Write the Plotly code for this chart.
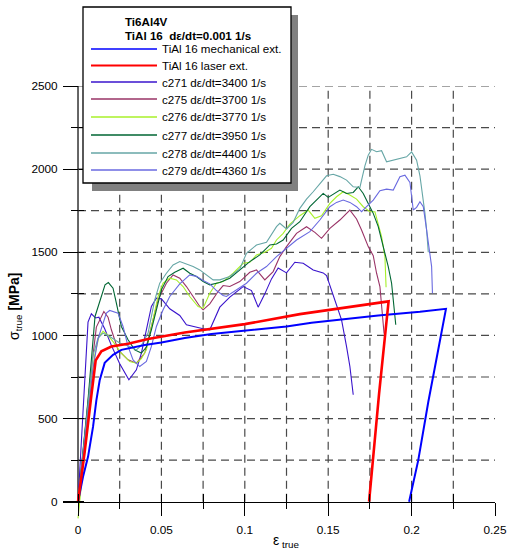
import plotly.graph_objects as go

# ---------------- data ----------------
mech_strain = [0, 0.003, 0.006, 0.009, 0.011, 0.013, 0.016, 0.021, 0.026, 0.033, 0.040, 0.050, 0.064,
               0.080, 0.100, 0.125, 0.140, 0.160, 0.180, 0.205, 0.2206, 0.2155, 0.2100, 0.2040, 0.1985]
mech_stress = [0, 150, 270, 450, 610, 730, 835, 883, 913, 930, 943, 958, 985,
               1008, 1030, 1054, 1076, 1100, 1120, 1142, 1160, 890, 600, 250, 0]

laser_strain = [0, 0.004, 0.008, 0.0106, 0.014, 0.020, 0.030, 0.042, 0.064, 0.100, 0.133, 0.160, 0.1862,
                0.1805, 0.1745]
laser_stress = [0, 300, 640, 850, 905, 933, 950, 978, 1018, 1068, 1128, 1167, 1205, 650, 0]

c271_strain = [0, 0.003, 0.006, 0.008, 0.0105, 0.0125, 0.016, 0.020, 0.025, 0.0305, 0.035, 0.038, 0.041,
               0.044, 0.047, 0.050, 0.055, 0.061, 0.065, 0.069, 0.075, 0.079, 0.082, 0.085, 0.091, 0.099,
               0.104, 0.108, 0.112, 0.116, 0.120, 0.125, 0.130, 0.135, 0.141, 0.147, 0.149, 0.152, 0.155,
               0.158, 0.161, 0.163, 0.165]
c271_stress = [0, 550, 1080, 1130, 1105, 1110, 1040, 940, 830, 733, 793, 894, 1034,
               1174, 1224, 1220, 1160, 1120, 1064, 1054, 1040, 1034, 1100, 1170, 1230, 1294,
               1270, 1170, 1250, 1340, 1406, 1376, 1440, 1434, 1394, 1376, 1360, 1270, 1174,
               1094, 933, 813, 643]

c275_strain = [0, 0.004, 0.008, 0.011, 0.0155, 0.018, 0.020, 0.024, 0.030, 0.035, 0.040, 0.044, 0.048,
               0.053, 0.057, 0.061, 0.065, 0.069, 0.073, 0.075, 0.079, 0.084, 0.087, 0.091, 0.097, 0.103,
               0.107, 0.112, 0.117, 0.121, 0.125, 0.131, 0.137, 0.142, 0.146, 0.151, 0.157, 0.163, 0.167,
               0.170, 0.174, 0.177, 0.179, 0.181, 0.182, 0.183, 0.1835]
c275_stress = [0, 400, 800, 1050, 1144, 1110, 1034, 913, 853, 833, 894, 1054, 1214,
               1314, 1364, 1344, 1294, 1234, 1174, 1154, 1190, 1264, 1300, 1294, 1324, 1380,
               1394, 1334, 1384, 1474, 1534, 1614, 1654, 1620, 1584, 1644, 1694, 1754, 1700,
               1634, 1534, 1480, 1374, 1294, 1174, 1094, 1010]

c276_strain = [0, 0.004, 0.0075, 0.010, 0.0125, 0.015, 0.018, 0.021, 0.026, 0.031, 0.035, 0.038, 0.041,
               0.045, 0.048, 0.051, 0.055, 0.059, 0.063, 0.067, 0.072, 0.075, 0.079, 0.083, 0.087, 0.093,
               0.099, 0.103, 0.107, 0.112, 0.116, 0.119, 0.123, 0.127, 0.133, 0.138, 0.142, 0.146, 0.151,
               0.155, 0.159, 0.163, 0.167, 0.171, 0.175, 0.178, 0.180, 0.182, 0.184, 0.1847]
c276_stress = [-100, 300, 700, 880, 990, 1025, 1000, 963, 894, 843, 833, 860, 913,
               1094, 1234, 1314, 1344, 1334, 1294, 1234, 1174, 1164, 1254, 1314, 1324, 1374,
               1434, 1440, 1484, 1500, 1524, 1574, 1614, 1670, 1720, 1754, 1704, 1720, 1794,
               1834, 1864, 1844, 1820, 1774, 1744, 1744, 1674, 1594, 1474, 1290]

c277_strain = [0, 0.006, 0.0102, 0.0132, 0.0162, 0.0182, 0.021, 0.023, 0.026, 0.030, 0.034, 0.038, 0.041,
               0.044, 0.047, 0.050, 0.054, 0.058, 0.063, 0.067, 0.071, 0.075, 0.079, 0.085, 0.091, 0.097,
               0.103, 0.109, 0.115, 0.119, 0.123, 0.128, 0.133, 0.139, 0.143, 0.147, 0.150, 0.153, 0.157,
               0.161, 0.165, 0.168, 0.171, 0.174, 0.177, 0.180, 0.182, 0.184, 0.186, 0.188, 0.189, 0.190,
               0.1905]
c277_stress = [0, 613, 1114, 1214, 1304, 1318, 1284, 1194, 1054, 974, 913, 894, 930,
               1034, 1154, 1274, 1354, 1380, 1404, 1374, 1354, 1324, 1304, 1318, 1344, 1394,
               1444, 1484, 1544, 1550, 1574, 1644, 1684, 1774, 1814, 1854, 1830, 1850, 1874,
               1854, 1860, 1894, 1854, 1794, 1734, 1654, 1574, 1494, 1414, 1314, 1214, 1104,
               1064]

c278_strain = [0, 0.005, 0.009, 0.012, 0.015, 0.019, 0.025, 0.031, 0.035, 0.038, 0.042, 0.046, 0.049,
               0.053, 0.057, 0.061, 0.065, 0.069, 0.073, 0.077, 0.081, 0.085, 0.091, 0.097, 0.101, 0.107,
               0.113, 0.119, 0.121, 0.125, 0.129, 0.133, 0.137, 0.141, 0.145, 0.149, 0.153, 0.157, 0.161,
               0.165, 0.169, 0.172, 0.174, 0.176, 0.179, 0.182, 0.185, 0.189, 0.193, 0.197, 0.200, 0.203,
               0.205, 0.207, 0.208, 0.209, 0.210]
c278_stress = [0, 500, 880, 984, 1014, 994, 954, 934, 913, 940, 1014, 1214, 1314,
               1374, 1424, 1444, 1430, 1414, 1394, 1364, 1334, 1334, 1354, 1400, 1494, 1544,
               1560, 1654, 1674, 1640, 1680, 1764, 1820, 1864, 1910, 1960, 1969, 1955, 1934,
               1894, 1890, 2020, 2084, 2119, 2105, 2111, 2044, 2054, 2060, 2074, 2104, 2054,
               1960, 1820, 1734, 1634, 1500]

c279_strain = [0, 0.005, 0.009, 0.012, 0.0142, 0.017, 0.019, 0.024, 0.027, 0.030, 0.033, 0.037, 0.041,
               0.044, 0.047, 0.051, 0.055, 0.061, 0.067, 0.071, 0.075, 0.079, 0.083, 0.087, 0.089, 0.095,
               0.101, 0.107, 0.113, 0.119, 0.125, 0.131, 0.139, 0.145, 0.151, 0.155, 0.159, 0.163, 0.167,
               0.170, 0.173, 0.177, 0.181, 0.185, 0.189, 0.193, 0.196, 0.199, 0.201, 0.203, 0.205, 0.207,
               0.209, 0.211, 0.212, 0.2125]
c279_stress = [0, 450, 800, 980, 1054, 1134, 1150, 1134, 1054, 934, 853, 813, 843,
               934, 1054, 1154, 1234, 1310, 1364, 1355, 1330, 1310, 1270, 1240, 1234, 1274,
               1314, 1374, 1414, 1474, 1524, 1574, 1624, 1694, 1774, 1800, 1814, 1800, 1774,
               1744, 1774, 1814, 1870, 1880, 1874, 1954, 1964, 1920, 1754, 1770, 1804, 1774,
               1634, 1494, 1414, 1254]

series_names = ["TiAl 16 mechanical ext.", "TiAl 16 laser ext.",
                "c271 dε/dt=3400 1/s", "c275 dε/dt=3700 1/s", "c276 dε/dt=3770 1/s",
                "c277 dε/dt=3950 1/s", "c278 dε/dt=4400 1/s", "c279 dε/dt=4360 1/s"]
legend_title_lines = ["Ti6Al4V", "TiAl 16  dε/dt=0.001 1/s"]
x_grid_values = [0.025, 0.05, 0.075, 0.1, 0.125, 0.15, 0.175, 0.2, 0.225]
y_grid_values = [250, 500, 750, 1000, 1250, 1500, 1750, 2000, 2250, 2500]

# ---------------- styles ----------------
series_data = [(mech_strain, mech_stress), (laser_strain, laser_stress),
               (c271_strain, c271_stress), (c275_strain, c275_stress), (c276_strain, c276_stress),
               (c277_strain, c277_stress), (c278_strain, c278_stress), (c279_strain, c279_stress)]
series_colors = ["#0000FF", "#FF0000", "#3A14CC", "#993366", "#A8F02A", "#006633", "#66A6A6", "#6A6AE0"]
series_widths = [2.0, 2.6, 1.1, 1.1, 1.1, 1.1, 1.1, 1.1]
legend_widths = [1.6, 2.2, 1.3, 1.3, 1.3, 1.3, 1.6, 1.3]
draw_order = [2, 3, 4, 5, 6, 7, 0, 1]

FONT = "Liberation Sans, Arial, sans-serif"
W, H = 507, 552
ML, MR, MT, MB = 63, 12, 86, 32
X_RANGE = [-0.009, 0.25]
Y_RANGE = [-110, 2500]


def px(xp):
    return (xp - ML) / (W - ML - MR)


def py(yp):
    return (H - MB - yp) / (H - MT - MB)


fig = go.Figure()
for i in draw_order:
    xs, ys = series_data[i]
    fig.add_trace(go.Scatter(x=xs, y=ys, mode="lines", name=series_names[i],
                             line=dict(color=series_colors[i], width=series_widths[i]),
                             showlegend=False, hoverinfo="skip"))
# empty trace so that the overlay axes (inside half of the crossing ticks) exist
fig.add_trace(go.Scatter(x=[None], y=[None], xaxis="x2", yaxis="y2", mode="lines",
                         showlegend=False, hoverinfo="skip"))

xpos = (0 - Y_RANGE[0]) / (Y_RANGE[1] - Y_RANGE[0])
ypos = (0 - X_RANGE[0]) / (X_RANGE[1] - X_RANGE[0])

shapes = []
grid_line = dict(color="#4a4a4a", width=1.2, dash="8px,5px")
for gx in x_grid_values:
    shapes.append(dict(type="line", xref="x", yref="y", x0=gx, x1=gx, y0=0, y1=Y_RANGE[1],
                       line=grid_line, layer="below"))
for gy in y_grid_values:
    shapes.append(dict(type="line", xref="x", yref="y", x0=0, x1=X_RANGE[1], y0=gy, y1=gy,
                       line=grid_line, layer="below"))
# y axis line (from 0 upwards)
shapes.append(dict(type="line", xref="x", yref="y", x0=0, x1=0, y0=0, y1=Y_RANGE[1],
                   line=dict(color="black", width=1.2), layer="below"))

# legend box with drop shadow
shapes.append(dict(type="rect", xref="paper", yref="paper", x0=px(92), x1=px(298), y0=py(191), y1=py(15),
                   fillcolor="#808080", line=dict(width=0), layer="above"))
shapes.append(dict(type="rect", xref="paper", yref="paper", x0=px(83), x1=px(291), y0=py(183), y1=py(7),
                   fillcolor="white", line=dict(color="black", width=1.3), layer="above"))

annotations = []
title_rows = [22, 36]
for t, yy in zip(legend_title_lines, title_rows):
    annotations.append(dict(xref="paper", yref="paper", x=px(123), y=py(yy), xanchor="left", yanchor="middle",
                            text="<b>" + t.replace("  ", " \u00a0") + "</b>", showarrow=False,
                            font=dict(family=FONT, size=11.6, color="black")))
item_rows = [49, 65.5, 82, 99, 117, 135, 153, 170]
for i, yy in enumerate(item_rows):
    shapes.append(dict(type="line", xref="paper", yref="paper", x0=px(91), x1=px(157), y0=py(yy), y1=py(yy),
                       line=dict(color=series_colors[i], width=legend_widths[i]), layer="above"))
    annotations.append(dict(xref="paper", yref="paper", x=px(160), y=py(yy), xanchor="left", yanchor="middle",
                            text=series_names[i], showarrow=False,
                            font=dict(family=FONT, size=11.6, color="black")))

# axis titles
annotations.append(dict(xref="paper", yref="paper", x=px(15), y=py(306), xanchor="center", yanchor="middle",
                        textangle=-90, text="σ<sub>true</sub> <b>[MPa]</b>", showarrow=False,
                        font=dict(family=FONT, size=14, color="black")))
annotations.append(dict(xref="paper", yref="paper", x=px(286), y=py(541), xanchor="center", yanchor="middle",
                        text="ε<sub> true</sub>", showarrow=False,
                        font=dict(family=FONT, size=14, color="black")))

tickfont = dict(family=FONT, size=11.8, color="black")
fig.update_layout(
    width=W, height=H,
    margin=dict(l=ML, r=MR, t=MT, b=MB, autoexpand=False),
    paper_bgcolor="white", plot_bgcolor="white",
    font=dict(family=FONT, size=11.6, color="black"),
    showlegend=False,
    xaxis=dict(range=X_RANGE, anchor="free", position=xpos, showline=True, linecolor="black", linewidth=1.2,
               showgrid=False, zeroline=False, tickmode="linear", tick0=0, dtick=0.05,
               ticks="outside", ticklen=13, tickwidth=1.2, tickcolor="black", tickfont=tickfont,
               ticklabelstandoff=4,
               minor=dict(tickmode="linear", tick0=0, dtick=0.025, ticks="outside", ticklen=6,
                          tickwidth=1.2, tickcolor="black", showgrid=False),
               fixedrange=True, automargin=False),
    xaxis2=dict(range=X_RANGE, overlaying="x", anchor="free", position=xpos, showline=False,
                showgrid=False, zeroline=False, tickmode="linear", tick0=0, dtick=0.025,
                ticks="inside", ticklen=8, tickwidth=1.2, tickcolor="black", showticklabels=False,
                fixedrange=True, automargin=False),
    yaxis=dict(range=Y_RANGE, anchor="free", position=ypos, showline=False,
               showgrid=False, zeroline=False, tickmode="linear", tick0=0, dtick=500,
               ticks="outside", ticklen=15, tickwidth=1.2, tickcolor="black", tickfont=tickfont,
               ticklabelstandoff=3,
               minor=dict(tickmode="linear", tick0=0, dtick=250, ticks="outside", ticklen=7,
                          tickwidth=1.2, tickcolor="black", showgrid=False),
               fixedrange=True, automargin=False),
    yaxis2=dict(range=Y_RANGE, overlaying="y", anchor="free", position=ypos, showline=False,
                showgrid=False, zeroline=False, tickmode="linear", tick0=0, dtick=250,
                ticks="inside", ticklen=5, tickwidth=1.2, tickcolor="black", showticklabels=False,
                fixedrange=True, automargin=False),
    shapes=shapes,
    annotations=annotations,
)

fig.write_html("out.html", config={"displayModeBar": False},
               post_script="document.body.style.margin='0';document.body.style.padding='0';"
                           "document.documentElement.style.overflow='hidden';")
